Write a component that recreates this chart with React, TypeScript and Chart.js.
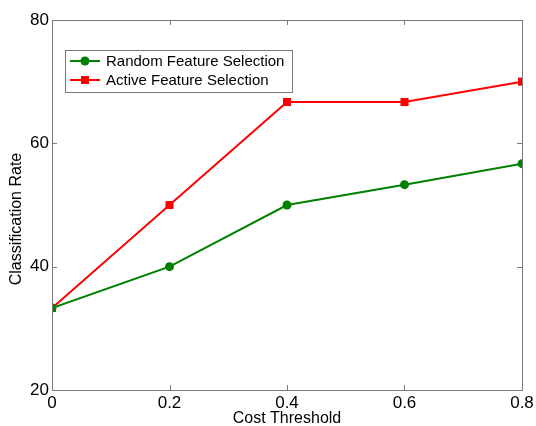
import React, { useEffect, useRef } from "react";
import { Chart, registerables } from "chart.js";

Chart.register(...registerables);

const costThresholds = [0, 0.2, 0.4, 0.6, 0.8];
const randomSelection = [33.3, 40, 50, 53.3, 56.7];
const activeSelection = [33.3, 50, 66.7, 66.7, 70];
const xTickValues = [0, 0.2, 0.4, 0.6, 0.8];
const yTickValues = [20, 40, 60, 80];
const seriesNames = ["Random Feature Selection", "Active Feature Selection"];
const xAxisTitle = "Cost Threshold";
const yAxisTitle = "Classification Rate";

const FONT = "'Liberation Sans', Arial, sans-serif";
const AXIS_COLOR = "#7a7a7a";

const boxPlugin = {
  id: "matlabBox",
  afterDatasetsDraw(chart: any) {
    const { ctx, chartArea: a, scales } = chart;
    const xs = scales.x;
    const ys = scales.y;
    ctx.save();
    ctx.strokeStyle = AXIS_COLOR;
    ctx.lineWidth = 1;
    ctx.strokeRect(Math.round(a.left) + 0.5, Math.round(a.top) + 0.5, Math.round(a.right - a.left), Math.round(a.bottom - a.top));
    const tl = 5;
    ctx.beginPath();
    xTickValues.forEach((v) => {
      const px = Math.round(xs.getPixelForValue(v)) + 0.5;
      ctx.moveTo(px, a.bottom);
      ctx.lineTo(px, a.bottom - tl);
      ctx.moveTo(px, a.top);
      ctx.lineTo(px, a.top + tl);
    });
    yTickValues.forEach((v) => {
      const py = Math.round(ys.getPixelForValue(v)) + 0.5;
      ctx.moveTo(a.left, py);
      ctx.lineTo(a.left + tl, py);
      ctx.moveTo(a.right, py);
      ctx.lineTo(a.right - tl, py);
    });
    ctx.stroke();

    // axis titles
    ctx.fillStyle = "#000000";
    ctx.font = "16px " + FONT;
    ctx.textAlign = "center";
    ctx.textBaseline = "middle";
    ctx.fillText(xAxisTitle, (a.left + a.right) / 2, 419);
    ctx.save();
    ctx.translate(17, 219);
    ctx.rotate(-Math.PI / 2);
    ctx.fillText(yAxisTitle, 0, 0);
    ctx.restore();

    // legend
    const lx = a.left + 13;
    const ly = a.top + 30;
    const lw = 227;
    const lh = 42;
    ctx.textAlign = "left";
    ctx.fillStyle = "#ffffff";
    ctx.fillRect(lx, ly, lw, lh);
    ctx.strokeStyle = AXIS_COLOR;
    ctx.lineWidth = 1;
    ctx.strokeRect(lx + 0.5, ly + 0.5, lw, lh);
    ctx.font = "15px " + FONT;
    ctx.textBaseline = "middle";
    chart.data.datasets.forEach((ds: any, i: number) => {
      const cy = ly + 11 + i * 19;
      ctx.strokeStyle = ds.borderColor;
      ctx.lineWidth = 2;
      ctx.beginPath();
      ctx.moveTo(lx + 5, cy);
      ctx.lineTo(lx + 35, cy);
      ctx.stroke();
      ctx.fillStyle = ds.backgroundColor;
      if (ds.pointStyle === "rect") {
        ctx.fillRect(lx + 16, cy - 4, 8, 8);
      } else {
        ctx.beginPath();
        ctx.arc(lx + 20, cy, 4.5, 0, Math.PI * 2);
        ctx.fill();
      }
      ctx.fillStyle = "#000000";
      ctx.fillText(ds.label, lx + 41, cy + 1);
    });
    ctx.restore();
  },
};

export default function App() {
  const ref = useRef<HTMLCanvasElement | null>(null);
  useEffect(() => {
    if (!ref.current) return;
    const mk = (vals: number[]) => costThresholds.map((x, i) => ({ x, y: vals[i] }));
    const chart = new Chart(ref.current, {
      type: "line",
      data: {
        datasets: [
          {
            label: seriesNames[0],
            data: mk(randomSelection),
            borderColor: "#008000",
            backgroundColor: "#008000",
            borderWidth: 2,
            pointStyle: "circle",
            pointRadius: 4.5,
            pointBorderWidth: 0,
            tension: 0,
          },
          {
            label: seriesNames[1],
            data: mk(activeSelection),
            borderColor: "#ff0000",
            backgroundColor: "#ff0000",
            borderWidth: 2,
            pointStyle: "rect",
            pointRadius: 5.7,
            pointBorderWidth: 0,
            tension: 0,
          },
        ],
      },
      options: {
        animation: false,
        responsive: false,
        maintainAspectRatio: false,
        layout: { padding: { top: 20, right: 14, left: 0, bottom: 0 } },
        plugins: { legend: { display: false }, tooltip: { enabled: false } },
        scales: {
          x: {
            type: "linear",
            min: 0,
            max: 0.8,
            grid: { display: false, drawTicks: false },
            border: { display: false },
            afterBuildTicks: (s: any) => {
              s.ticks = xTickValues.map((v) => ({ value: v }));
            },
            afterFit: (s: any) => {
              s.height = 36;
              s.paddingLeft = 0;
              s.paddingRight = 0;
            },
            ticks: {
              color: "#000",
              font: { family: FONT, size: 17 },
              padding: 3,
              maxRotation: 0,
              callback: (v: any) => String(v),
            },
          },
          y: {
            type: "linear",
            min: 20,
            max: 80,
            grid: { display: false, drawTicks: false },
            border: { display: false },
            afterBuildTicks: (s: any) => {
              s.ticks = yTickValues.map((v) => ({ value: v }));
            },
            afterFit: (s: any) => {
              s.width = 52;
              s.paddingTop = 0;
              s.paddingBottom = 0;
            },
            ticks: {
              color: "#000",
              font: { family: FONT, size: 17 },
              padding: 3,
              callback: (v: any) => String(v),
            },
          },
        },
      },
      plugins: [boxPlugin],
    } as any);
    return () => chart.destroy();
  }, []);
  return (
    <div style={{ position: "fixed", left: 0, top: 0, width: 536, height: 426, background: "#fff" }}>
      <canvas ref={ref} width={536} height={426} style={{ width: 536, height: 426 }} />
    </div>
  );
}
